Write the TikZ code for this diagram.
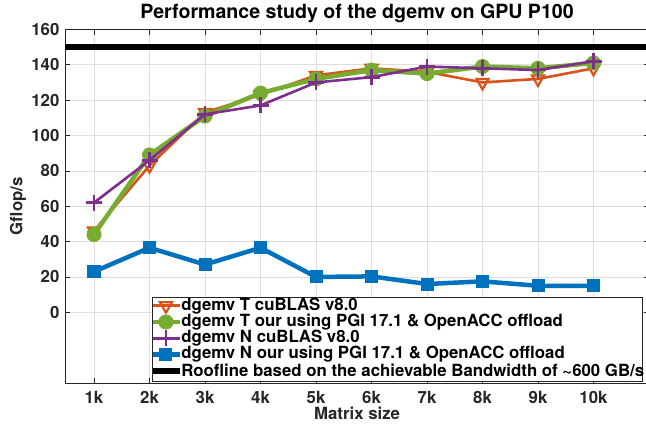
\documentclass[tikz,border=0pt]{standalone}
\usepackage{fontspec}
\setmainfont{TeX Gyre Heros}
\usetikzlibrary{plotmarks}
\definecolor{mlorange}{rgb}{0.85,0.325,0.098}
\definecolor{mlgreen}{rgb}{0.466,0.674,0.188}
\definecolor{mlpurple}{rgb}{0.494,0.184,0.556}
\definecolor{mlblue}{rgb}{0,0.447,0.741}
\definecolor{axisgray}{rgb}{0.15,0.15,0.15}
\definecolor{gridgray}{rgb}{0.87,0.87,0.87}
\tikzset{
  lbl/.style={font=\bfseries\fontsize{16.8}{18}\selectfont, text=axisgray, inner sep=0pt},
  gridline/.style={gridgray, line width=0.7pt},
  axisline/.style={axisgray, line width=0.7pt},
  tcub/.style={mlorange, line width=2.6pt, mark=triangle,
    mark size=7pt, mark options={rotate=180, line width=2.2pt}},
  tour/.style={mlgreen, line width=4.5pt, mark=*,
    mark size=7pt, mark options={line width=1pt}},
  ncub/.style={mlpurple, line width=2.6pt, mark=+,
    mark size=8pt, mark options={line width=2.8pt}},
  nour/.style={mlblue, line width=4.5pt, mark=square*,
    mark size=6pt, mark options={line width=1pt}},
  roof/.style={black, line width=5.5pt}
}
\begin{document}
\begin{tikzpicture}[x=55.5pt,y=1.768pt]
  \useasboundingbox (-38.5pt,-112.7pt) rectangle +(646pt,425pt);
  % grid
  \foreach \k in {1,...,10}
    \draw[gridline] (\k,-40) -- (\k,160);
  \foreach \g in {0,20,...,140}
    \draw[gridline] (0.48,\g) -- (11,\g);
  % axes and ticks
  \draw[axisline] (0.48,-40) -- (0.48,160) -- (11,160);
  \draw[axisline] (0.48,-40) -- (11,-40);
  \foreach \k in {1,...,10} {
    \draw[axisline] (\k,-40) -- (\k,-37);
    \draw[axisline] (\k,160) -- (\k,157);
    \node[lbl] (xt\k) at (\k,-48) {\k k};
  }
  \foreach \g in {0,20,...,160} {
    \draw[axisline] (0.48,\g) -- (0.57,\g);
    \draw[axisline] (11,\g) -- (10.91,\g);
    \node[lbl, anchor=east] (yt\g) at (0.38,\g) {\g};
  }
  % roofline
  \draw[roof] (0.48,150) -- (11,150);
  % data
  \draw[tcub] plot coordinates {(1,46) (2,83) (3,113) (4,123) (5,134)
    (6,138) (7,136) (8,130) (9,132) (10,138)};
  \draw[tour] plot coordinates {(1,44) (2,89) (3,111) (4,124) (5,132)
    (6,137) (7,135) (8,139) (9,138) (10,141)};
  \draw[ncub] plot coordinates {(1,62) (2,86) (3,112) (4,117) (5,130)
    (6,133) (7,139) (8,138) (9,137) (10,142)};
  \draw[nour] plot coordinates {(1,23) (2,36.5) (3,27) (4,36.5) (5,20)
    (6,20.3) (7,16) (8,17.5) (9,15) (10,15)};
  % labels
  \node[lbl, text=black, font=\bfseries\fontsize{19.6}{21}\selectfont]
    (title) at (5.74,169.3) {Performance study of the dgemv on GPU P100};
  \node[lbl] (xlab) at (5.74,-57) {Matrix size};
  \node[lbl, rotate=90] (ylab) at (-0.37,60) {Gflop/s};
  % legend
  \draw[axisline, fill=white] (2.045,8.65) rectangle (10.874,-38.9);
  \foreach \st/\lab [count=\i from 0] in {
      tcub/{dgemv T cuBLAS v8.0},
      tour/{dgemv T our using PGI 17.1 \& OpenACC offload},
      ncub/{dgemv N cuBLAS v8.0},
      nour/{dgemv N our using PGI 17.1 \& OpenACC offload},
      roof/{Roofline based on the achievable Bandwidth of \textasciitilde600 GB/s}} {
    \pgfmathsetmacro\ly{3.7-9.2*\i}
    \draw[\st] (2.063,\ly) -- (2.55,\ly);
    \draw[\st] plot coordinates {(2.297,\ly)};
    \node[lbl, text=black, anchor=west] (leg\i) at (2.57,\ly) {\lab};
  }
\end{tikzpicture}
\end{document}
